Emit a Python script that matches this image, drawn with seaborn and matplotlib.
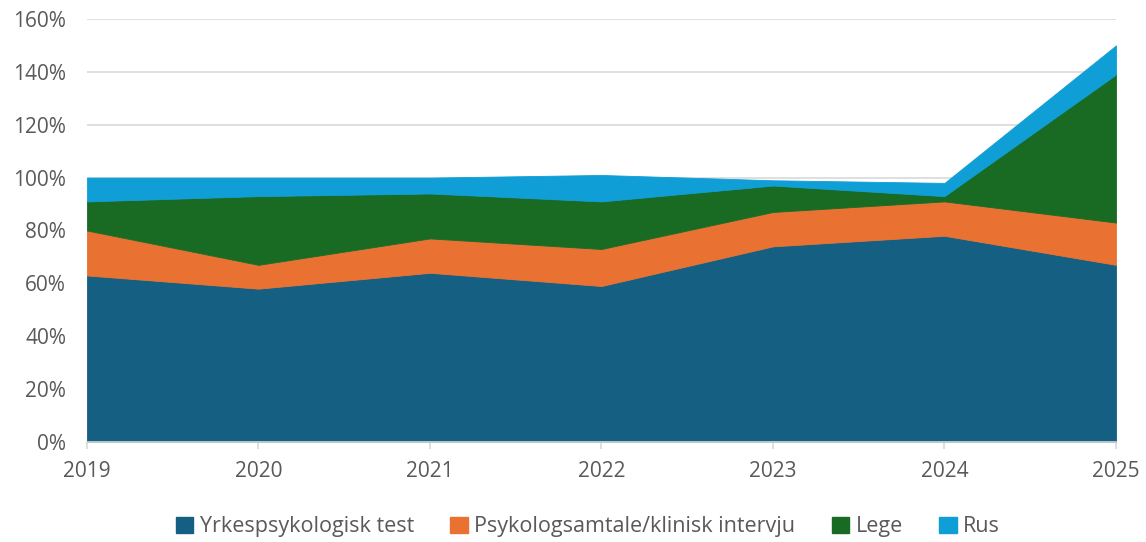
import numpy as np
import matplotlib
matplotlib.use("Agg")
import matplotlib.pyplot as plt
import seaborn as sns
from matplotlib.patches import Patch
from matplotlib.ticker import PercentFormatter

sns.set_theme(style="white")
plt.rcParams['font.family'] = ['Open Sans', 'DejaVu Sans']

years = [2019, 2020, 2021, 2022, 2023, 2024, 2025]
yrkes = [63, 58, 64, 59, 74, 78, 67]
psyk = [17, 9, 13, 14, 13, 13, 16]
lege = [11, 26, 17, 18, 10, 2, 56]
rus = [9, 7, 6, 10, 2, 5, 11]
labels = ["Yrkespsykologisk test", "Psykologsamtale/klinisk intervju", "Lege", "Rus"]
colors = sns.color_palette(["#156082", "#E97132", "#196B24", "#0F9ED5"])

text_color = "#595959"

fig = plt.figure(figsize=(11.46, 5.42), dpi=100)
ax = fig.add_axes([0.0759, 0.1845, 0.8979, 0.7805])

polys = ax.stackplot(years, yrkes, psyk, lege, rus, colors=colors, labels=labels, zorder=2)
for p, c in zip(polys, colors):
    p.set_edgecolor(c)
    p.set_linewidth(0.6)

ax.set_xlim(2019, 2025)
ax.set_ylim(0, 160)
ax.set_yticks(np.arange(0, 161, 20))
ax.yaxis.set_major_formatter(PercentFormatter(decimals=0))
ax.set_xticks(years)

ax.grid(axis="y", color="#d9d9d9", linewidth=1.2, zorder=0)
ax.set_axisbelow(True)
for s in ["left", "right", "top"]:
    ax.spines[s].set_visible(False)
ax.spines["bottom"].set_color("#d9d9d9")
ax.spines["bottom"].set_linewidth(1.2)

ax.tick_params(axis="y", length=0, pad=15, labelsize=15, labelcolor=text_color)
ax.tick_params(axis="x", bottom=True, length=5, width=1.2, color="#d9d9d9",
               pad=9, labelsize=15, labelcolor=text_color)

handles = [Patch(facecolor=c, edgecolor=c) for c in colors]
fig.legend(handles, labels, loc="center", bbox_to_anchor=(0.513, 0.028), ncol=4,
           frameon=False, fontsize=15.5, labelcolor=text_color,
           handlelength=0.8, handleheight=0.8, handletextpad=0.3, columnspacing=1.7)

fig.savefig("out.png", dpi=100)
